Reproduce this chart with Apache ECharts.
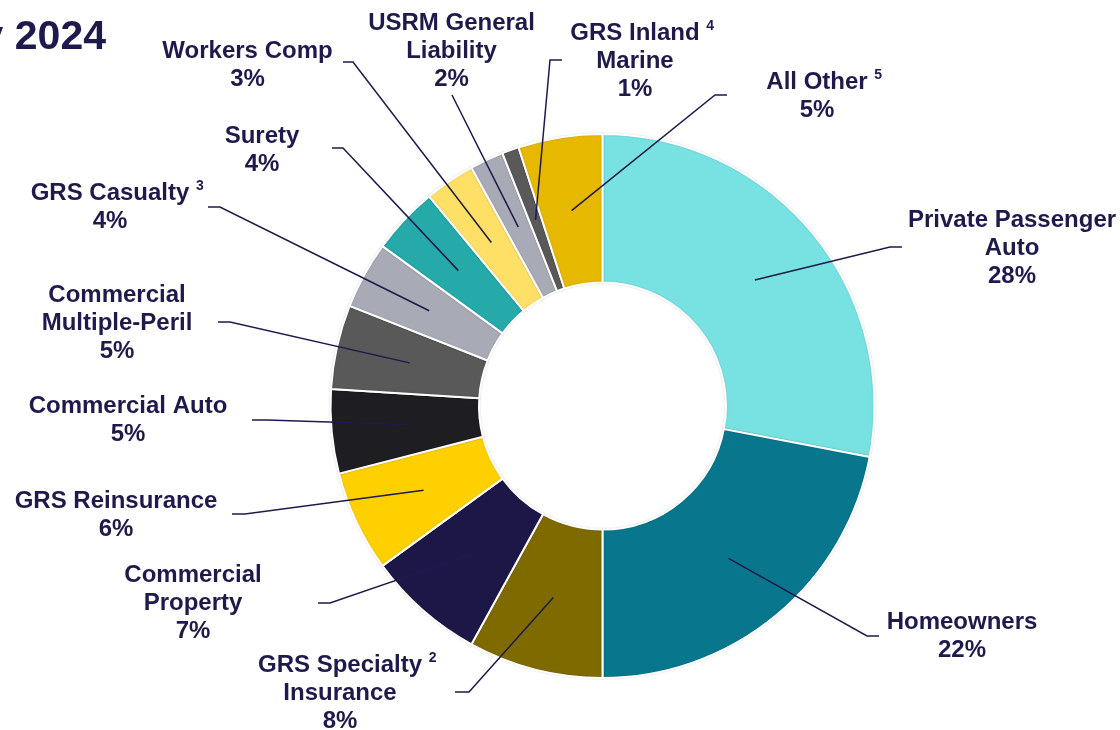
<!DOCTYPE html>
<html><head><meta charset="utf-8">
<script src="https://cdn.jsdelivr.net/npm/echarts@6/dist/echarts.min.js"></script>
<style>html,body{margin:0;padding:0;background:#fff}#c{width:1120px;height:730px}</style>
</head><body><div id="c"></div>
<script>
// ---- data ----
const categories = ['Private Passenger\nAuto', 'Homeowners', 'GRS Specialty\nInsurance', 'Commercial\nProperty',
  'GRS Reinsurance', 'Commercial Auto', 'Commercial\nMultiple-Peril', 'GRS Casualty', 'Surety', 'Workers Comp',
  'USRM General\nLiability', 'GRS Inland\nMarine', 'All Other'];
const footnotes = ['', '', '2', '', '', '', '', '3', '', '', '', '4', '5'];
const shares = [28, 22, 8, 7, 6, 5, 5, 4, 4, 3, 2, 1, 5];
const colors = ['#78e1e1', '#08768c', '#7f6a00', '#1d1748', '#ffd000', '#1d1d22', '#595959',
  '#a8abb6', '#25a9a9', '#ffe066', '#a8abb6', '#595959', '#e6b800'];
const titleText = 'y 2024';

// ---- layout (label placement) ----
const CX = 602.5, CY = 406, R_IN = 123.5, R_OUT = 272;
const labelCentres = [[1012, 248], [962, 636], [340, 693], [193, 603.5], [116, 515], [128, 420.5], [117, 323],
  [110, 207], [262, 150], [247.5, 65.5], [451.5, 51.5], [635, 61.5], [817, 96]];
// [elbowX, endX, y]
const guides = [[890, 902, 247], [867, 879, 636], [469, 455, 692], [330, 318, 603], [245, 232, 514],
  [267, 252, 420], [230, 218, 322], [220, 208, 207], [343, 332, 148], [353, 343, 62], [452, 452, 95],
  [550, 562, 60], [715, 727, 95]];

const ink = '#1e1a4b';
const FONT = '"Liberation Sans", Arial, sans-serif';
const chart = echarts.init(document.getElementById('c'), null, {renderer: 'canvas'});

const baseSeries = {
  type: 'pie',
  center: [CX, CY],
  radius: [R_IN, R_OUT],
  startAngle: 90,
  clockwise: true,
  silent: true,
  avoidLabelOverlap: false,
  emphasis: {disabled: true}
};

chart.setOption({
  animation: false,
  backgroundColor: '#fff',
  graphic: [{
    type: 'text', silent: true,
    style: {text: titleText, x: 106, y: 38, align: 'right', verticalAlign: 'middle',
      font: 'bold 41px ' + FONT, fill: ink}
  }],
  series: [Object.assign({}, baseSeries, {
    z: 2,
    data: categories.map((c, i) => ({name: c, value: shares[i], itemStyle: {color: colors[i]}})),
    itemStyle: {borderColor: '#fff', borderWidth: 2, shadowBlur: 2, shadowColor: 'rgba(0,0,0,0.15)'},
    label: {show: false},
    labelLine: {show: false}
  }), Object.assign({}, baseSeries, {
    z: 5,
    data: categories.map((c, i) => ({name: c, value: shares[i]})),
    itemStyle: {color: 'rgba(0,0,0,0)', borderWidth: 0},
    label: {
      show: true, position: 'outside',
      color: ink, fontFamily: FONT, fontWeight: 'bold',
      fontSize: 24, lineHeight: 28, align: 'center',
      formatter: function (p) {
        const i = p.dataIndex;
        const lines = categories[i].split('\n');
        if (footnotes[i]) lines[0] = '{p| }' + lines[0] + ' {s|' + footnotes[i] + '}';
        return lines.join('\n') + '\n' + shares[i] + '%';
      },
      rich: {
        p: {width: 14.5, fontSize: 24, lineHeight: 28, align: 'center'},
        s: {fontSize: 14, lineHeight: 14, verticalAlign: 'top', fontWeight: 'bold', color: ink,
          fontFamily: FONT, align: 'center'}
      }
    },
    labelLine: {show: true, smooth: false, length: 10, length2: 10, lineStyle: {color: ink, width: 1.5}},
    labelLayout: function (p) {
      const i = p.dataIndex;
      const b = labelCentres[i], g = guides[i];
      const rMid = (R_IN + R_OUT) / 2;
      let start;
      if (p.labelLinePoints && p.labelLinePoints[0]) {
        const p0 = p.labelLinePoints[0];
        const dx = p0[0] - CX, dy = p0[1] - CY;
        const d = Math.sqrt(dx * dx + dy * dy) || 1;
        start = [CX + dx / d * rMid, CY + dy / d * rMid];
      } else {
        start = [g[0], g[2]];
      }
      return {
        x: b[0], y: b[1], align: 'center', verticalAlign: 'middle',
        labelLinePoints: [start, [g[0], g[2]], [g[1], g[2]]]
      };
    }
  })]
});
</script></body></html>
